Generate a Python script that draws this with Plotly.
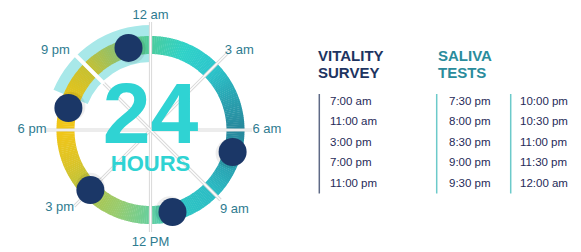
import plotly.graph_objects as go
import numpy as np

# ---------------- data ----------------
clock_labels = ["12 am", "3 am", "6 am", "9 am", "12 PM", "3 pm", "6 pm", "9 pm"]
clock_label_hours = [0, 3, 6, 9, 12, 15, 18, 21]
vitality_title = ["VITALITY", "SURVEY"]
vitality_times = ["7:00 am", "11:00 am", "3:00 pm", "7:00 pm", "11:00 pm"]
vitality_hours = [7, 11, 15, 19, 23]
saliva_title = ["SALIVA", "TESTS"]
saliva_col1 = ["7:30 pm", "8:00 pm", "8:30 pm", "9:00 pm", "9:30 pm"]
saliva_col2 = ["10:00 pm", "10:30 pm", "11:00 pm", "11:30 pm", "12:00 am"]
saliva_window = [19.5, 24]
center_big = "24"
center_small = "HOURS"

# ---------------- style ----------------
W, H = 581, 252
CX, CY, R = 150.5, 130, 121
FONT = "Liberation Sans, Arial, sans-serif"
NAVY = "#1b3767"
LABEL_C = "#2e7b90"
TURQ = "#2fd3d3"

grad_stops = [
    (0, "#4ccc9c"), (1.5, "#30d2c8"), (3, "#2cc6cc"), (4.5, "#2aa4b2"),
    (6, "#28889c"), (7.5, "#2a9eae"), (9, "#2bbcc4"), (11, "#30c8c4"),
    (12, "#66cf9e"), (13.5, "#98cc70"), (15, "#b2c446"), (16.5, "#dcc428"),
    (18, "#f2c618"), (19.5, "#e6c41a"), (21, "#c6c032"), (22.5, "#8cc070"),
    (24, "#4ccc9c"),
]


def hex2rgb(h):
    h = h.lstrip("#")
    return [int(h[i:i + 2], 16) for i in (0, 2, 4)]


def grad(hour):
    for (h0, c0), (h1, c1) in zip(grad_stops[:-1], grad_stops[1:]):
        if h0 <= hour <= h1:
            t = (hour - h0) / (h1 - h0)
            a, b = hex2rgb(c0), hex2rgb(c1)
            return "rgb(%d,%d,%d)" % tuple(round(a[i] + (b[i] - a[i]) * t) for i in range(3))
    return grad_stops[0][1]


def px(x):
    return x / W


def py(y):
    return 1 - y / H


fig = go.Figure()

# highlight band (saliva window)
fig.add_trace(go.Barpolar(
    theta=[(saliva_window[0] + saliva_window[1]) / 2 * 15],
    r=[37], base=[68], width=[(saliva_window[1] - saliva_window[0]) * 15],
    marker=dict(color="#a8e8e9", line=dict(width=0)), hoverinfo="skip"))

# gradient ring
n = 288
seg_hours = (np.arange(n) + 0.5) * 24 / n
fig.add_trace(go.Barpolar(
    theta=seg_hours * 15, r=[18] * n, base=[76] * n, width=[360 / n * 1.2] * n,
    marker=dict(color=[grad(h) for h in seg_hours], line=dict(width=0)),
    hoverinfo="skip"))

# clock lines
line_end = {0: 108, 3: 111, 6: 101.5, 9: 99, 12: 102, 15: 108, 18: 105, 21: 105}
for a in [0, 3, 6, 9]:
    b = a + 12
    for col, wdt in [("#d9d9d9", 3.2), ("#ffffff", 1.2)]:
        fig.add_trace(go.Scatterpolar(
            theta=[a * 15, b * 15], r=[line_end[a], line_end[b]], mode="lines",
            line=dict(color=col, width=wdt), hoverinfo="skip"))
fig.add_trace(go.Scatterpolar(
    theta=[21 * 15, 21 * 15], r=[66, 106], mode="lines",
    line=dict(color="#ffffff", width=4), hoverinfo="skip"))

# centre text
fig.add_trace(go.Scatterpolar(
    theta=[0], r=[9], mode="text", text=[center_big], textposition="middle center",
    textfont=dict(family=FONT, size=86, color=TURQ, weight="bold"),
    cliponaxis=False, hoverinfo="skip"))
fig.add_trace(go.Scatterpolar(
    theta=[180], r=[35], mode="text", text=[center_small], textposition="middle center",
    textfont=dict(family=FONT, size=22, color=TURQ, weight="bold"),
    cliponaxis=False, hoverinfo="skip"))

# clock labels
label_r = [114, 109, 102, 106, 113, 109, 104, 113]
label_dtheta = [0, -2, 0, 4, 0, -0.5, 0, -0.5]
label_pos = ["middle center", "middle right", "middle right", "middle right",
             "middle center", "middle left", "middle left", "middle left"]
fig.add_trace(go.Scatterpolar(
    theta=[h * 15 + d for h, d in zip(clock_label_hours, label_dtheta)], r=label_r,
    mode="text", text=clock_labels, textposition=label_pos,
    textfont=dict(family=FONT, size=13, color=LABEL_C),
    cliponaxis=False, hoverinfo="skip"))

# dots (vitality survey times)
fig.add_trace(go.Scatterpolar(
    theta=[h * 15 + 1.5 for h in vitality_hours], r=[83] * len(vitality_hours), mode="markers",
    marker=dict(size=29, color="rgba(0,0,0,0.07)", line=dict(width=0)), hoverinfo="skip"))
fig.add_trace(go.Scatterpolar(
    theta=[h * 15 for h in vitality_hours], r=[85] * len(vitality_hours), mode="markers",
    marker=dict(size=28, color=NAVY, line=dict(width=0)), hoverinfo="skip"))

# ---------------- right side tables ----------------
ann = []
shapes = []
for i, t in enumerate(vitality_title):
    ann.append(dict(x=px(316), y=py(55 + 17 * i), text=t, showarrow=False,
                    xanchor="left", yanchor="middle", xref="paper", yref="paper",
                    font=dict(family=FONT, size=15, color="#1d3461", weight="bold")))
for i, t in enumerate(saliva_title):
    ann.append(dict(x=px(435.5), y=py(55 + 17 * i), text=t, showarrow=False,
                    xanchor="left", yanchor="middle", xref="paper", yref="paper",
                    font=dict(family=FONT, size=15, color="#2a8c9c", weight="bold")))
cols = [(328, vitality_times), (447, saliva_col1), (518, saliva_col2)]
for x0, items in cols:
    for i, t in enumerate(items):
        ann.append(dict(x=px(x0), y=py(100.8 + 20.5 * i), text=t, showarrow=False,
                        xanchor="left", yanchor="middle", xref="paper", yref="paper",
                        font=dict(family=FONT, size=11.5, color="#1f2a58")))
for xl, c in [(319.3, "#5f6a86"), (436.7, "#6ccaca"), (510.7, "#6ccaca")]:
    shapes.append(dict(type="line", xref="paper", yref="paper",
                       x0=px(xl), x1=px(xl), y0=py(94), y1=py(193.5),
                       line=dict(color=c, width=1.5)))

fig.update_layout(
    width=W, height=H, margin=dict(l=0, r=0, t=0, b=0),
    paper_bgcolor="white", plot_bgcolor="white", showlegend=False,
    annotations=ann, shapes=shapes,
    polar=dict(
        domain=dict(x=[px(CX - R), px(CX + R)], y=[py(CY + R), py(CY - R)]),
        bgcolor="rgba(0,0,0,0)", bargap=0,
        angularaxis=dict(rotation=90, direction="clockwise", visible=False,
                         showgrid=False, showline=False, ticks=""),
        radialaxis=dict(range=[0, R], visible=False, showgrid=False,
                        showline=False, ticks=""),
    ),
)

fig.write_html("out.html", config={"displayModeBar": False},
               post_script="document.body.style.margin='0';document.body.style.padding='0';")
